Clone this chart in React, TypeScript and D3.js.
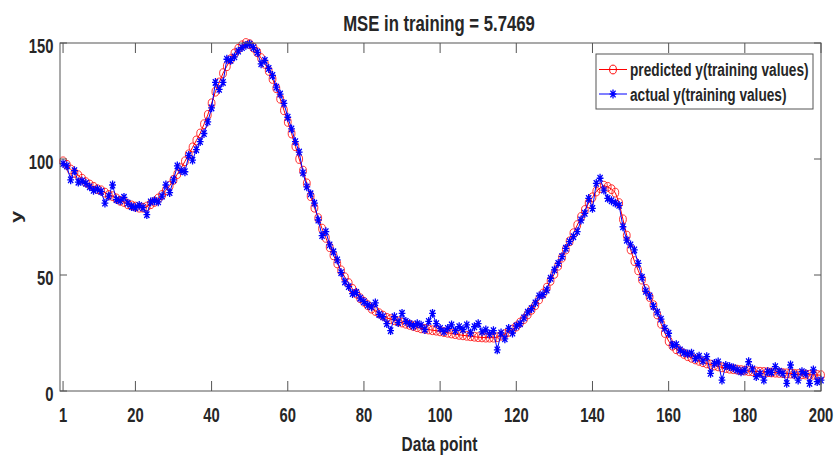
import React from "react";
import * as d3 from "d3";

const predicted: number[] = [
  99, 97.5, 95.5, 94, 93, 91.5, 90, 89, 88, 87,
  86.5, 85.5, 84.5, 84, 83, 82, 81.5, 80.5, 80, 79.5,
  79, 79, 79.5, 80.5, 81.5, 83, 84.5, 86.5, 88.5, 91,
  93.5, 96, 99, 102, 105, 108, 111, 115, 119, 124,
  129, 133, 137, 140, 143, 145.5, 147.5, 149, 150, 149.5,
  148, 146, 143.5, 141, 138, 134.5, 130.5, 126, 121, 116,
  111, 105.5, 100, 95, 89.5, 84, 79, 74.5, 70, 66,
  62, 58.5, 55, 52, 49, 46.5, 44, 42, 40, 38.5,
  37, 35.5, 34.5, 33.5, 32.5, 31.5, 31, 30.5, 30, 29.5,
  29, 28.5, 28, 27.5, 27, 26.8, 26.5, 26.2, 26, 25.7,
  25.4, 25.1, 24.8, 24.5, 24.2, 24, 23.8, 23.6, 23.4, 23.2,
  23.1, 23, 23, 23, 23.2, 23.8, 24.5, 25.5, 26.5, 27.8,
  29.5, 31, 33, 35, 37, 39.5, 42, 44.5, 47.5, 50.5,
  54, 57.5, 61, 64.5, 68, 71.5, 75, 78, 81, 83.5,
  86, 87.5, 88.5, 88, 87, 85.5, 81, 74, 67, 61,
  56, 52, 48, 44, 40.5, 37, 33, 29, 25, 21.5,
  19.5, 18, 17, 16, 15, 14.3, 13.6, 13, 12.4, 11.9,
  11.4, 11, 10.6, 10.2, 9.9, 9.6, 9.4, 9.2, 9, 8.8,
  8.6, 8.5, 8.4, 8.3, 8.2, 8.1, 8, 7.9, 7.8, 7.7,
  7.6, 7.5, 7.4, 7.3, 7.2, 7.1, 7, 7, 6.9, 6.8,
];

const actual: number[] = [
  98, 97, 91, 95, 90, 90.5, 89.5, 88, 86.5, 87,
  86, 81, 84, 88.8, 82.5, 82, 83.5, 81, 79.5, 79,
  80, 79, 76, 81.5, 82, 81.5, 84, 88.8, 85.5, 91,
  97, 95, 94.5, 101.5, 99.5, 104, 107.5, 111, 116, 122,
  133, 130, 133, 143, 142.5, 144, 146.5, 148, 149, 149.5,
  148, 146, 141, 142.5, 139, 136, 131, 128, 124, 118,
  113, 107.5, 103, 94, 88, 85, 81, 73.7, 67, 68.7,
  63, 60, 56.5, 51, 47, 45, 42, 42.5, 40, 38.5,
  37, 36.3, 38, 33, 32, 29, 26, 32, 29.5, 33.5,
  30, 29, 28, 29, 28.4, 26.5, 30, 33.5, 29, 27,
  25.6, 27, 28.5, 26, 27.7, 26.5, 28.5, 25, 27.7, 29,
  25.5, 26.3, 24.5, 26, 17.7, 25, 22.5, 27, 25, 28,
  29, 31.5, 34, 35.5, 38, 41, 41.5, 43.5, 48.6, 52.2,
  55, 57.9, 61.5, 64.4, 66.5, 68.7, 73.7, 76.6, 83, 78.7,
  89.5, 91.7, 86.6, 83, 82, 81, 80, 70.8, 65, 63,
  60.8, 55, 49, 43, 41, 36.5, 34, 31, 27, 24.9,
  19.8, 20, 17.7, 16.5, 16, 16.3, 14, 15, 13, 14.8,
  7.6, 11.9, 12.5, 4.7, 11, 10.5, 10, 9.1, 8.3, 9,
  12.6, 9.5, 6.2, 7.5, 4.7, 8.3, 8, 10.5, 8.5, 7.6,
  3.3, 11.2, 7, 4.7, 8.3, 7.5, 3.3, 9.1, 4, 4.7,
];

const dataPoints: number[] = d3.range(1, predicted.length + 1);
const xTicks: number[] = [1, 20, 40, 60, 80, 100, 120, 140, 160, 180, 200];
const yTicks: number[] = [0, 50, 100, 150];

const titleText = "MSE in training = 5.7469";
const xLabel = "Data point";
const yLabel = "y";
const legendLabels: string[] = ["predicted y(training values)", "actual y(training values)"];

const W = 835;
const H = 458;
const left = 60;
const right = 821;
const top = 43;
const bottom = 391;

const FONT = "'Liberation Sans', Arial, Helvetica, sans-serif";
const TXT = "#262626";
const AX = "#555555";

function Txt(props: {
  x: number; y: number; size: number; anchor?: string; children: React.ReactNode; rotate?: number; sx?: number;
}) {
  const { x, y, size, anchor = "middle", rotate, sx = 0.74 } = props;
  const tr = `translate(${x},${y}) scale(${sx},1)` + (rotate ? ` rotate(${rotate})` : "");
  return (
    <text transform={tr} fontFamily={FONT} fontWeight="bold" fontSize={size} fill={TXT} textAnchor={anchor}>
      {props.children}
    </text>
  );
}

function Star(props: { cx: number; cy: number; color: string }) {
  const { cx, cy, color } = props;
  const hx = 3.4, hy = 4.4;
  const d = `M${cx - hx},${cy}L${cx + hx},${cy}M${cx},${cy - hy}L${cx},${cy + hy}` +
    `M${cx - hx * 0.75},${cy - hy * 0.75}L${cx + hx * 0.75},${cy + hy * 0.75}` +
    `M${cx - hx * 0.75},${cy + hy * 0.75}L${cx + hx * 0.75},${cy - hy * 0.75}`;
  return <path d={d} stroke={color} strokeWidth={1.3} fill="none" />;
}

export default function App() {
  const x = d3.scaleLinear().domain([0.2, 200]).range([left, right]);
  const y = d3.scaleLinear().domain([0, 150]).range([bottom, top]);

  const lineP = d3.line<number>().x((_, i) => x(dataPoints[i])).y((d) => y(d));
  const red = "#ff0000";
  const blue = "#0000ff";

  const lgX0 = 596, lgX1 = 813, lgY0 = 54, lgY1 = 109;
  const row1 = 69.5, row2 = 94;

  return (
    <svg width={W} height={H} style={{ position: "absolute", left: 0, top: 0, background: "#fff" }}>
      <rect x={0} y={0} width={W} height={H} fill="#fff" />
      {/* predicted */}
      <path d={lineP(predicted) || ""} stroke={red} strokeWidth={1} fill="none" />
      {predicted.map((v, i) => (
        <ellipse key={"p" + i} cx={x(dataPoints[i])} cy={y(v)} rx={3.4} ry={4.4} fill="none" stroke={red} strokeWidth={1} strokeOpacity={0.8} />
      ))}
      {/* actual */}
      <path d={lineP(actual) || ""} stroke={blue} strokeWidth={1} fill="none" />
      {actual.map((v, i) => (
        <Star key={"a" + i} cx={x(dataPoints[i])} cy={y(v)} color={blue} />
      ))}

      {/* axes box */}
      <rect x={left} y={top} width={right - left} height={bottom - top} fill="none" stroke={AX} strokeWidth={1} />
      {xTicks.map((t) => (
        <g key={"xt" + t}>
          <line x1={x(t)} x2={x(t)} y1={bottom} y2={bottom - 10} stroke={AX} />
          <line x1={x(t)} x2={x(t)} y1={top} y2={top + 10} stroke={AX} />
          <Txt x={x(t)} y={422} size={20}>{t}</Txt>
        </g>
      ))}
      {yTicks.map((t) => (
        <g key={"yt" + t}>
          <line x1={left} x2={left + 7} y1={y(t)} y2={y(t)} stroke={AX} />
          <line x1={right} x2={right - 7} y1={y(t)} y2={y(t)} stroke={AX} />
          <Txt x={53.5} y={y(t) + 9.5} size={20} anchor="end">{t}</Txt>
        </g>
      ))}

      {/* title and labels */}
      <Txt x={439} y={31} size={22} sx={0.76}>{titleText}</Txt>
      <Txt x={439.5} y={451} size={21}>{xLabel}</Txt>
      <Txt x={22} y={217} size={22} rotate={-90}>{yLabel}</Txt>

      {/* legend */}
      <rect x={lgX0} y={lgY0} width={lgX1 - lgX0} height={lgY1 - lgY0} fill="#fff" stroke={AX} strokeWidth={1} />
      <line x1={599} x2={627} y1={row1} y2={row1} stroke={red} />
      <ellipse cx={613} cy={row1} rx={3.4} ry={4.4} fill="none" stroke={red} />
      <line x1={599} x2={627} y1={row2} y2={row2} stroke={blue} />
      <Star cx={613} cy={row2} color={blue} />
      <Txt x={630} y={row1 + 6.5} size={19} anchor="start" sx={0.72}>{legendLabels[0]}</Txt>
      <Txt x={630} y={row2 + 6.5} size={19} anchor="start" sx={0.72}>{legendLabels[1]}</Txt>
    </svg>
  );
}
